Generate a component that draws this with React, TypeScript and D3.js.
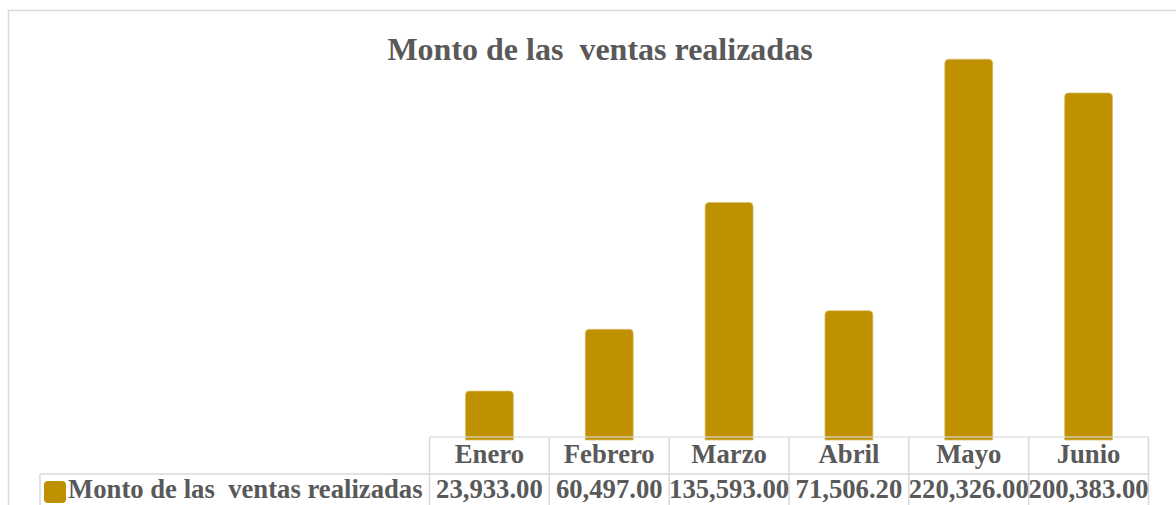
import React, {useEffect, useRef} from 'react'
import * as d3 from 'd3';

const months = ['Enero', 'Febrero', 'Marzo', 'Abril', 'Mayo', 'Junio'];
const ventas = [23933.00, 60497.00, 135593.00, 71506.20, 220326.00, 200383.00];
const seriesName = 'Monto de las  ventas realizadas';
const chartTitle = 'Monto de las  ventas realizadas';

export default function App(){
    const svgRef = useRef<SVGSVGElement | null>(null);

    const W = 1176, H = 505;
    const plot = {left: 429.5, right: 1148.5, top: 26, bottom: 440};
    const table = {top: 437, mid: 474, bottom: 512, legendLeft: 40};
    const textColor = '#595959';
    const lineColor = '#d9d9d9';
    const gold = '#bf9000';
    const font = '"Liberation Serif", "Times New Roman", serif';
    const tableFont = 26.7;

    useEffect(() => {
        const svg = d3.select(svgRef.current);
        //clear canvas before redrawing
        svg.selectAll('*').remove();

        const xscale = d3.scaleBand()
            .domain(months)
            .range([plot.left, plot.right])
            .paddingInner(0.6)
            .paddingOuter(0.3);

        const yscale = d3.scaleLinear()
            .domain([-5000, 240000])
            .range([plot.bottom, plot.top]);

        const data = months.map((m, i) => ({month: m, value: ventas[i]}));

        // outer chart border
        svg.append('rect')
            .attr('x', 8.5).attr('y', 10.5)
            .attr('width', 1190).attr('height', 520)
            .attr('fill', 'white')
            .attr('stroke', lineColor)
            .attr('stroke-width', 1.5);

        svg.append('text')
            .attr('x', 600)
            .attr('y', 60)
            .attr('text-anchor', 'middle')
            .attr('font-family', font)
            .attr('font-weight', 'bold')
            .attr('font-size', 32)
            .attr('fill', textColor)
            .style('white-space', 'pre')
            .text(chartTitle);

        // bars, rounded on top
        const r = 4;
        svg.append('g')
            .selectAll('path')
            .data(data)
            .join('path')
            .attr('d', d => {
                const x0 = xscale(d.month)!;
                const x1 = x0 + xscale.bandwidth();
                const y0 = yscale(d.value);
                const yb = yscale(-5000);
                const p = d3.path();
                p.moveTo(x0, yb);
                p.lineTo(x0, y0 + r);
                p.quadraticCurveTo(x0, y0, x0 + r, y0);
                p.lineTo(x1 - r, y0);
                p.quadraticCurveTo(x1, y0, x1, y0 + r);
                p.lineTo(x1, yb);
                p.closePath();
                return p.toString();
            })
            .attr('fill', gold)
            .attr('stroke', '#d9bf6e')
            .attr('stroke-width', 0.75);

        // data table grid
        const grid = svg.append('g')
            .attr('stroke', lineColor)
            .attr('stroke-width', 1.5)
            .attr('fill', 'none');

        grid.append('line')
            .attr('x1', plot.left).attr('x2', plot.right)
            .attr('y1', table.top).attr('y2', table.top)
            .attr('stroke-opacity', 0.8);
        grid.append('line')
            .attr('x1', table.legendLeft).attr('x2', plot.right)
            .attr('y1', table.mid).attr('y2', table.mid);
        grid.append('line')
            .attr('x1', table.legendLeft).attr('x2', table.legendLeft)
            .attr('y1', table.mid).attr('y2', table.bottom);

        const edges = months.map(m => xscale(m)! - xscale.step() * xscale.paddingInner() / 2);
        edges.push(plot.right);
        grid.selectAll('line.col')
            .data(edges)
            .join('line')
            .attr('class', 'col')
            .attr('x1', d => d).attr('x2', d => d)
            .attr('y1', table.top).attr('y2', table.bottom);

        const cx = (m: string) => xscale(m)! + xscale.bandwidth() / 2;

        svg.append('g')
            .selectAll('text')
            .data(months)
            .join('text')
            .attr('x', d => cx(d))
            .attr('y', 463)
            .attr('text-anchor', 'middle')
            .attr('font-family', font)
            .attr('font-weight', 'bold')
            .attr('font-size', tableFont)
            .attr('fill', textColor)
            .text(d => d);

        const fmt = d3.format(',.2f');
        svg.append('g')
            .selectAll('text')
            .data(data)
            .join('text')
            .attr('x', d => cx(d.month))
            .attr('y', 498)
            .attr('text-anchor', 'middle')
            .attr('font-family', font)
            .attr('font-weight', 'bold')
            .attr('font-size', tableFont)
            .attr('fill', textColor)
            .text(d => fmt(d.value));

        // legend key + series name
        svg.append('rect')
            .attr('x', 44).attr('y', 481)
            .attr('width', 22).attr('height', 22)
            .attr('rx', 4)
            .attr('fill', gold);

        svg.append('text')
            .attr('x', 68)
            .attr('y', 498)
            .attr('font-family', font)
            .attr('font-weight', 'bold')
            .attr('font-size', tableFont)
            .attr('fill', textColor)
            .style('white-space', 'pre')
            .text(seriesName);
    });

    return (
        <svg
            ref={svgRef}
            width={W}
            height={H}
            style={{position: 'absolute', left: 0, top: 0, display: 'block'}}
        >
        </svg>
    );
}
